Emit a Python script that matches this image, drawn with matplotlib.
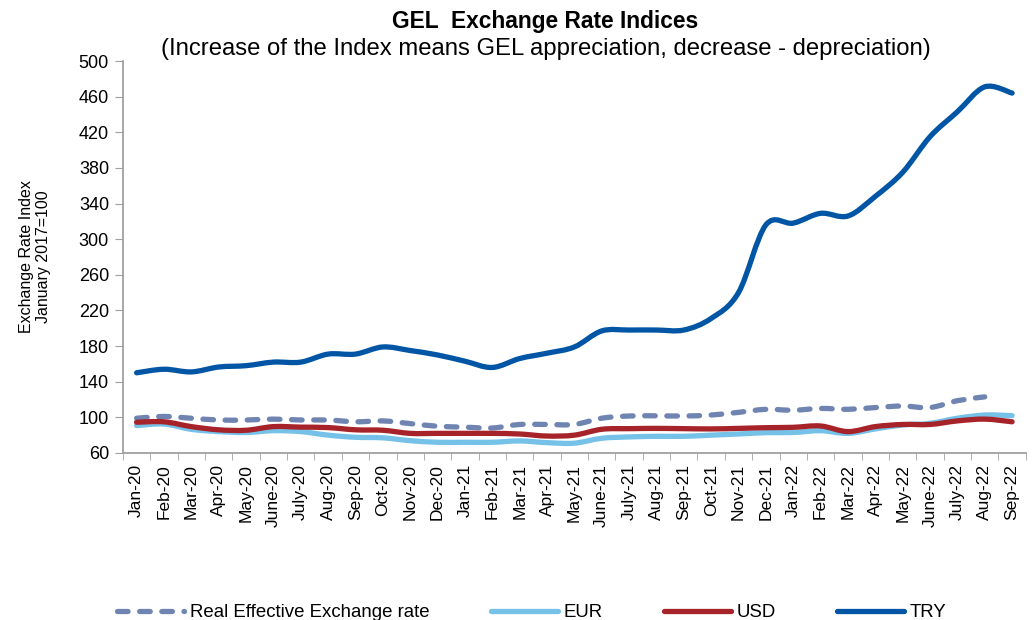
import numpy as np
import matplotlib.pyplot as plt
from matplotlib.path import Path
from matplotlib.patches import PathPatch
from matplotlib.lines import Line2D

plt.rcParams['font.family'] = ['Liberation Sans', 'DejaVu Sans']

months = ['Jan-20', 'Feb-20', 'Mar-20', 'Apr-20', 'May-20', 'June-20', 'July-20', 'Aug-20',
          'Sep-20', 'Oct-20', 'Nov-20', 'Dec-20', 'Jan-21', 'Feb-21', 'Mar-21', 'Apr-21',
          'May-21', 'June-21', 'July-21', 'Aug-21', 'Sep-21', 'Oct-21', 'Nov-21', 'Dec-21',
          'Jan-22', 'Feb-22', 'Mar-22', 'Apr-22', 'May-22', 'June-22', 'July-22', 'Aug-22',
          'Sep-22']

# Real effective exchange rate (no value for Sep-22)
reer = [99, 101, 99, 97, 97, 98, 97, 97, 95, 96, 93, 90, 89, 88, 92, 92, 92, 99, 101.5,
        101.7, 101.5, 102.6, 105.6, 109, 108, 110, 109, 111, 112.7, 111, 118.7, 123]
eur = [90.7, 92.5, 86.5, 84, 83, 85, 84, 80, 77.6, 77, 73.8, 72, 72, 72, 73.5, 71.6, 71,
       76.5, 78, 78.7, 78.7, 80, 81.3, 82.8, 83, 85, 82, 87, 91.4, 93.3, 99, 102.6, 101.9]
usd = [94.5, 95, 89.6, 86, 85.5, 89.6, 89, 88.5, 86, 85.5, 82, 82, 82, 82, 81.3, 79, 80,
       86.6, 87.3, 87.6, 87.3, 87, 87.6, 88.4, 88.8, 90.3, 84, 89.6, 92, 92, 96, 98, 95]
try_ = [150, 154, 151, 156.5, 158, 162, 162, 171, 171, 179, 175, 170, 163, 156, 166, 172,
        179, 197, 198, 198, 198, 211, 240, 316, 318, 329, 326, 348, 375, 415, 443, 471, 464]

series = [
    ('Real Effective Exchange rate', reer, '#6f84b0', (0, (2, 2.2))),
    ('EUR', eur, '#75c1e8', '-'),
    ('USD', usd, '#a6232a', '-'),
    ('TRY', try_, '#0055a5', '-'),
]


def smooth_path(ys):
    # excel-style smoothed line through the monthly points
    pts = np.column_stack([np.arange(len(ys)), ys]).astype(float)
    n = len(pts)
    verts = [pts[0]]
    codes = [Path.MOVETO]
    for i in range(n - 1):
        p0 = pts[max(i - 1, 0)]
        p1 = pts[i]
        p2 = pts[i + 1]
        p3 = pts[min(i + 2, n - 1)]
        verts += [p1 + (p2 - p0) / 6, p2 - (p3 - p1) / 6, p2]
        codes += [Path.CURVE4] * 3
    return Path(verts, codes)


fig = plt.figure(figsize=(10.33, 6.2), dpi=100)
ax = fig.add_axes([0.119, 0.2694, 0.874, 0.6322])

handles = []
for name, vals, col, ls in series:
    patch = PathPatch(smooth_path(vals), fill=False, edgecolor=col, linewidth=3.8,
                      linestyle=ls, capstyle='round', joinstyle='round')
    ax.add_patch(patch)
    handles.append(Line2D([], [], color=col, linewidth=3.8, linestyle=ls,
                          solid_capstyle='round', dash_capstyle='round'))

ax.set_xlim(-0.5, len(months) - 0.5)
ax.set_ylim(60, 500)
ax.set_yticks(range(60, 501, 40))
ax.set_xticks(range(len(months)))
ax.set_xticklabels(months, rotation=90, fontsize=12.5)
ax.set_xticks(np.arange(-0.5, len(months), 1), minor=True)
ax.tick_params(axis='x', which='major', length=0, pad=8)
ax.tick_params(axis='x', which='minor', length=5, color='#a0a0a0', direction='out')
ax.tick_params(axis='y', labelsize=13, length=6, color='#a0a0a0', direction='out', pad=4)

for s in ['top', 'right']:
    ax.spines[s].set_visible(False)
for s in ['left', 'bottom']:
    ax.spines[s].set_color('#a0a0a0')
    ax.spines[s].set_linewidth(1.3)

ax.set_ylabel('Exchange Rate Index\nJanuary 2017=100', fontsize=11.5, linespacing=1.2,
              labelpad=20)

fig.text(0.528, 0.965, 'GEL  Exchange Rate Indices', ha='center', va='center',
         fontsize=16.4, fontweight='bold')
fig.text(0.528, 0.921,
         '(Increase of the Index means GEL appreciation, decrease - depreciation)',
         ha='center', va='center', fontsize=17.2)

fig.legend(handles, [s[0] for s in series], loc='center left', ncol=4,
           bbox_to_anchor=(0.097, 0.012), frameon=False, fontsize=13.4, handlelength=3.6,
           handletextpad=0.3, columnspacing=3.3)

fig.savefig('out.png', dpi=100)
